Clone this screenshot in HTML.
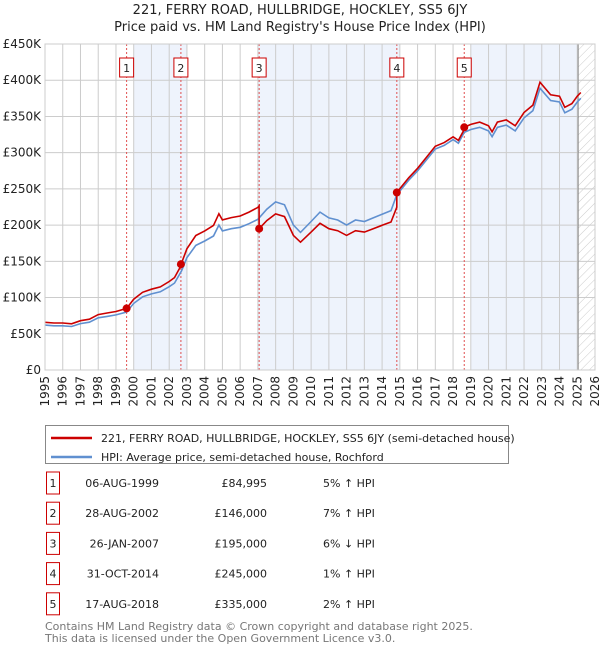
<!DOCTYPE html>
<html><head><meta charset="utf-8"><style>
body{margin:0;background:#fff;font-family:"Liberation Sans","DejaVu Sans",sans-serif;}
svg{display:block}
</style></head><body>
<svg id="c" width="600" height="650" xmlns="http://www.w3.org/2000/svg" font-family="DejaVu Sans, Liberation Sans, sans-serif">
<text x="300" y="14" text-anchor="middle" font-size="13" fill="#222">221, FERRY ROAD, HULLBRIDGE, HOCKLEY, SS5 6JY</text>
<text x="300" y="31" text-anchor="middle" font-size="13" fill="#222">Price paid vs. HM Land Registry's House Price Index (HPI)</text>
<g id="plot"></g>
<g>
<rect x="45.5" y="425.5" width="463" height="38" fill="#fff" stroke="#888"/>
<line x1="51" y1="438" x2="92" y2="438" stroke="#cc0000" stroke-width="2.5"/>
<text x="101" y="442" font-size="11" fill="#222">221, FERRY ROAD, HULLBRIDGE, HOCKLEY, SS5 6JY (semi-detached house)</text>
<line x1="51" y1="457" x2="92" y2="457" stroke="#6090d0" stroke-width="2.5"/>
<text x="101" y="461" font-size="11" fill="#222">HPI: Average price, semi-detached house, Rochford</text>
</g>
<g id="table" font-size="11" fill="#222"></g>
<text x="45" y="630" font-size="11" fill="#777">Contains HM Land Registry data © Crown copyright and database right 2025.</text>
<text x="45" y="642" font-size="11" fill="#777">This data is licensed under the Open Government Licence v3.0.</text>
</svg>
<script>
const hpiYears=[1995,1995.5,1996,1996.5,1997,1997.5,1998,1998.5,1999,1999.6,2000,2000.5,2001,2001.5,2002,2002.3,2002.7,2003,2003.5,2004,2004.5,2004.8,2005,2005.5,2006,2006.5,2007,2007.5,2008,2008.5,2009,2009.4,2010,2010.5,2011,2011.5,2012,2012.5,2013,2013.5,2014,2014.5,2014.83,2015,2015.5,2016,2016.5,2017,2017.5,2018,2018.3,2018.63,2019,2019.5,2020,2020.2,2020.5,2021,2021.5,2022,2022.5,2022.9,2023.5,2024,2024.3,2024.7,2025,2025.2];
const hpiValues=[62,61,61,60,64,66,72,74,76,80,92,101,105,108,115,120,137,155,172,178,185,200,192,195,197,202,208,222,232,228,200,190,205,218,210,207,200,207,205,210,215,220,242,247,262,275,290,305,310,318,313,328,332,335,330,322,335,338,330,348,358,389,372,370,355,360,370,375];
const saleYears=[1999.6,2002.66,2007.07,2014.83,2018.63];
const salePrices=[84.995,146,195,245,335];
const saleLabels=["1","2","3","4","5"];
const saleDates=["06-AUG-1999","28-AUG-2002","26-JAN-2007","31-OCT-2014","17-AUG-2018"];
const salePriceText=["£84,995","£146,000","£195,000","£245,000","£335,000"];
const salePct=["5% ↑ HPI","7% ↑ HPI","6% ↓ HPI","1% ↑ HPI","2% ↑ HPI"];
const yTicks=[0,50,100,150,200,250,300,350,400,450];
const yTickLabels=["£0","£50K","£100K","£150K","£200K","£250K","£300K","£350K","£400K","£450K"];
const xTicks=[1995,1996,1997,1998,1999,2000,2001,2002,2003,2004,2005,2006,2007,2008,2009,2010,2011,2012,2013,2014,2015,2016,2017,2018,2019,2020,2021,2022,2023,2024,2025,2026];
const shadeStarts=[2000,2007,2019];
const shadeEnds=[2003,2015,2025.05];

const X0=45,X1=595,Y0=370,Y1=44;
const xs=y=>X0+(y-1995)/(2026-1995)*(X1-X0);
const ys=v=>Y0-v/450*(Y0-Y1);
const NS="http://www.w3.org/2000/svg";
const plot=document.getElementById('plot');
function mk(t,a,p){const e=document.createElementNS(NS,t);for(const k in a)e.setAttribute(k,a[k]);(p||plot).appendChild(e);return e;}
function hpiAt(t){for(let i=0;i<hpiYears.length-1;i++){if(t<=hpiYears[i+1]){const f=(t-hpiYears[i])/(hpiYears[i+1]-hpiYears[i]);return hpiValues[i]+f*(hpiValues[i+1]-hpiValues[i]);}}return hpiValues[hpiValues.length-1];}
shadeStarts.forEach((s,i)=>{const r=mk('rect',{x:xs(s),y:Y1,width:xs(shadeEnds[i])-xs(s),height:Y0-Y1,fill:'#eef3fc'});

});
const defs=mk('defs',{});
const pat=mk('pattern',{id:'h',width:6,height:6,patternUnits:'userSpaceOnUse',patternTransform:'rotate(45)'},defs);
mk('line',{x1:0,y1:0,x2:0,y2:6,stroke:'#ccc','stroke-width':1},pat);
const hr=mk('rect',{x:xs(2025.05),y:Y1,width:X1-xs(2025.05),height:Y0-Y1,fill:'url(#h)'});


xTicks.forEach((t,i)=>{const l=mk('line',{x1:xs(t),y1:Y1,x2:xs(t),y2:Y0,stroke:'#ccc','stroke-width':1});


const tx=mk('text',{x:0,y:0,'font-size':12,fill:'#222','text-anchor':'end',transform:`translate(${xs(t)+4},${Y0+6}) rotate(-90)`});tx.textContent=t;

});
yTicks.forEach((t,i)=>{const l=mk('line',{x1:X0,y1:ys(t),x2:X1,y2:ys(t),stroke:'#ccc','stroke-width':1});


const tx=mk('text',{x:X0-4,y:ys(t)+4,'font-size':12,fill:'#222','text-anchor':'end'});tx.textContent=yTickLabels[i];

});
mk('line',{x1:xs(2025.05),y1:Y1,x2:xs(2025.05),y2:Y0,stroke:'#888','stroke-width':1});
saleYears.forEach((s,i)=>{const l=mk('line',{x1:xs(s),y1:Y1,x2:xs(s),y2:Y0,stroke:'#e05050','stroke-width':1,'stroke-dasharray':'2,2'});


const b=mk('rect',{x:xs(s)-7,y:58,width:14,height:19,fill:'#fff',stroke:'#cc0000'});


const t=mk('text',{x:xs(s),y:72,'font-size':11,'text-anchor':'middle',fill:'#222'});t.textContent=saleLabels[i];

});
let d='';hpiYears.forEach((y,i)=>{d+=(i?'L':'M')+xs(y).toFixed(1)+','+ys(hpiValues[i]).toFixed(1);});
const hp=mk('path',{d,fill:'none',stroke:'#6090d0','stroke-width':1.6});


function ratioAt(t){let k=-1;for(let i=0;i<saleYears.length;i++)if(t>=saleYears[i])k=i;const j=k<0?0:k;return salePrices[j]/hpiAt(saleYears[j]);}
const pts=[];hpiYears.forEach(y=>pts.push(y));saleYears.forEach(y=>{pts.push(y-0.001);pts.push(y);});pts.sort((a,b)=>a-b);
let d2='';pts.forEach((y,i)=>{d2+=(i?'L':'M')+xs(y).toFixed(1)+','+ys(hpiAt(y)*ratioAt(y)).toFixed(1);});
const pp=mk('path',{d:d2,fill:'none',stroke:'#cc0000','stroke-width':1.6});


saleYears.forEach((s,i)=>{const c=mk('circle',{cx:xs(s),cy:ys(salePrices[i]),r:4,fill:'#cc0000'});

});
mk('rect',{x:X0,y:Y1,width:X1-X0,height:Y0-Y1,fill:'none',stroke:'#ccc'});
const tb=document.getElementById('table');
saleYears.forEach((s,i)=>{const cy=483+i*30.2;
const b=mk('rect',{x:46.5,y:cy-11,width:13,height:22,fill:'#fff',stroke:'#cc0000'},tb);


const cells=[[53,'middle',saleLabels[i],'row-number'],[159,'end',saleDates[i],'sale-date'],[267,'end',salePriceText[i],'sale-price'],[323,'start',salePct[i],'hpi-difference']];
cells.forEach(c=>{const t=mk('text',{x:c[0],y:cy+4,'text-anchor':c[1],'font-size':11,fill:'#222'},tb);t.textContent=c[2];

});});
</script>
</body></html>
